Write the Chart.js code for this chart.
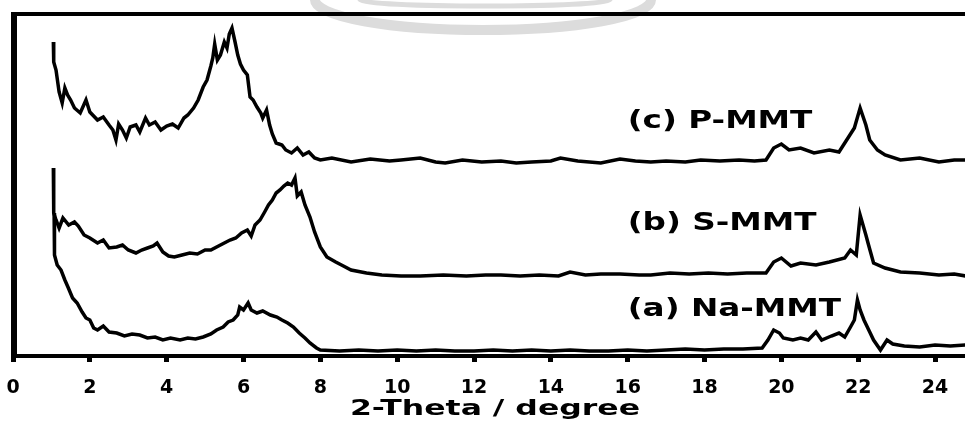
<!DOCTYPE html>
<html>
<head>
<meta charset="utf-8">
<title>XRD patterns</title>
<script src="https://cdn.jsdelivr.net/npm/chart.js@4/dist/chart.umd.min.js"></script>
<style>
    html, body { margin: 0; padding: 0; background: #fff; }
    #xrdChart { display: block; }
</style>
</head>
<body>
<canvas id="xrdChart" width="965" height="421"></canvas>
<script>
// 2-Theta (degree) and offset intensity
const cX = [1.05, 1.06, 1.12, 1.2, 1.28, 1.35, 1.42, 1.5, 1.6, 1.75, 1.9, 2.0, 2.2, 2.35, 2.5, 2.6, 2.68, 2.75, 2.85, 2.95,
    3.05, 3.2, 3.3, 3.45, 3.55, 3.7, 3.85, 4.0, 4.15, 4.3, 4.45, 4.55, 4.7, 4.82, 4.95, 5.05, 5.15, 5.2, 5.25, 5.32,
    5.4, 5.5, 5.57, 5.63, 5.7, 5.78, 5.85, 5.92, 6.0, 6.1, 6.17, 6.25, 6.35, 6.45, 6.5, 6.6, 6.68, 6.75, 6.85, 7.0,
    7.1, 7.25, 7.4, 7.55, 7.7, 7.85, 8.0, 8.3, 8.8, 9.3, 9.8, 10.1, 10.6, 11.0, 11.25, 11.7, 12.2, 12.7, 13.1, 13.5,
    14.0, 14.25, 14.7, 15.3, 15.8, 16.2, 16.6, 17.0, 17.5, 17.9, 18.4, 18.9, 19.3, 19.6, 19.8, 20.0, 20.2, 20.5, 20.85, 21.25,
    21.5, 21.7, 21.9, 22.05, 22.2, 22.3, 22.5, 22.7, 23.1, 23.6, 24.1, 24.5, 24.8];
const cY = [314, 294, 286, 264, 253, 268, 261, 256, 248, 243, 256, 244, 236, 239, 231, 226, 216, 232, 226, 218,
    229, 231, 224, 238, 231, 234, 226, 230, 232, 228, 238, 241, 248, 256, 269, 276, 290, 298, 312, 296,
    301, 314, 308, 322, 328, 314, 301, 292, 286, 281, 259, 256, 249, 243, 238, 246, 231, 222, 213, 211,
    206, 203, 208, 201, 204, 198, 196, 198, 194, 197, 195, 196, 198, 194, 193, 196, 194, 195, 193, 194,
    195, 198, 195, 193, 197, 195, 194, 195, 194, 196, 195, 196, 195, 196, 208, 212, 206, 208, 203, 206,
    204, 216, 228, 248, 231, 216, 206, 201, 196, 198, 194, 196, 196];

const bX = [1.05, 1.06, 1.12, 1.2, 1.3, 1.45, 1.6, 1.7, 1.85, 2.0, 2.2, 2.35, 2.5, 2.7, 2.85, 3.0, 3.2, 3.35, 3.5, 3.65,
    3.75, 3.9, 4.05, 4.2, 4.4, 4.6, 4.8, 5.0, 5.15, 5.35, 5.5, 5.65, 5.8, 5.95, 6.1, 6.2, 6.3, 6.43, 6.55, 6.65,
    6.75, 6.85, 6.95, 7.05, 7.15, 7.25, 7.34, 7.4, 7.5, 7.6, 7.73, 7.85, 8.0, 8.17, 8.4, 8.6, 8.8, 9.2, 9.6, 10.1,
    10.6, 11.2, 11.8, 12.3, 12.7, 13.2, 13.7, 14.2, 14.5, 14.9, 15.3, 15.8, 16.3, 16.6, 17.1, 17.6, 18.1, 18.6, 19.1, 19.6,
    19.8, 20.0, 20.25, 20.5, 20.9, 21.25, 21.65, 21.8, 21.95, 22.05, 22.2, 22.27, 22.4, 22.7, 23.1, 23.6, 24.1, 24.5, 24.8];
const bY = [188, 143, 136, 128, 138, 131, 134, 130, 121, 118, 113, 116, 108, 109, 111, 106, 103, 106, 108, 110,
    113, 104, 100, 99, 101, 103, 102, 106, 106, 110, 113, 116, 118, 123, 126, 120, 131, 136, 144, 151,
    156, 163, 166, 170, 173, 171, 178, 160, 164, 151, 139, 124, 109, 99, 94, 90, 86, 83, 81, 80,
    80, 81, 80, 81, 81, 80, 81, 80, 84, 81, 82, 82, 81, 81, 83, 82, 83, 82, 83, 83,
    94, 98, 90, 93, 91, 94, 98, 106, 101, 141, 121, 111, 93, 88, 84, 83, 81, 82, 80];

const aX = [1.07, 1.08, 1.15, 1.25, 1.35, 1.43, 1.55, 1.67, 1.8, 1.9, 2.0, 2.1, 2.2, 2.35, 2.5, 2.7, 2.9, 3.1, 3.3, 3.5, 3.7,
    3.9, 4.1, 4.35, 4.55, 4.75, 4.95, 5.15, 5.3, 5.47, 5.6, 5.73, 5.85, 5.9, 6.0, 6.12, 6.2, 6.35, 6.5, 6.7, 6.87,
    7.0, 7.15, 7.3, 7.45, 7.6, 7.73, 7.9, 8.0, 8.5, 9.0, 9.5, 10.0, 10.5, 11.0, 11.5, 12.0, 12.5, 13.0, 13.5, 14.0,
    14.5, 15.0, 15.5, 16.0, 16.5, 17.0, 17.5, 18.0, 18.5, 19.0, 19.5, 19.65, 19.8, 19.95, 20.05, 20.3, 20.5, 20.7, 20.9, 21.05,
    21.3, 21.5, 21.65, 21.8, 21.9, 21.98, 22.05, 22.15, 22.3, 22.4, 22.58, 22.75, 22.9, 23.2, 23.6, 24.0, 24.4, 24.8];
const aY = [143, 101, 91, 86, 76, 69, 58, 53, 44, 38, 36, 28, 26, 30, 24, 23, 20, 22, 21, 18, 19,
    16, 18, 16, 18, 17, 19, 22, 26, 29, 34, 36, 41, 49, 46, 53, 46, 43, 45, 41, 39,
    36, 33, 29, 23, 18, 13, 8, 6, 5, 6, 5, 6, 5, 6, 5, 5, 6, 5, 6, 5,
    6, 5, 5, 6, 5, 6, 7, 6, 7, 7, 8, 16, 26, 23, 18, 16, 18, 16, 24, 16,
    20, 23, 19, 29, 36, 56, 46, 36, 24, 16, 6, 16, 12, 10, 9, 11, 10, 11];

const xTicks = [0, 2, 4, 6, 8, 10, 12, 14, 16, 18, 20, 22, 24];
const seriesNames = ['(a) Na-MMT', '(b) S-MMT', '(c) P-MMT'];
const nameX = [16.0, 16.0, 16.0];
const nameY = [46, 132, 234];

function pairs(xs, ys) {
    return xs.map((x, i) => ({ x: x, y: ys[i] }));
}

// faint watermark arcs behind the frame
const watermark = {
    id: 'watermark',
    beforeDraw(chart) {
        const ctx = chart.ctx;
        ctx.save();
        ctx.strokeStyle = '#dcdcdc';
        ctx.lineWidth = 10;
        ctx.beginPath();
        ctx.ellipse(483, 0, 168, 30, 0, 0, Math.PI);
        ctx.stroke();
        ctx.lineWidth = 5;
        ctx.beginPath();
        ctx.ellipse(485, 0, 125, 6, 0, 0, Math.PI);
        ctx.stroke();
        ctx.restore();
    }
};

// frame lines, curve names and axis title (wide, heavy lettering)
const decor = {
    id: 'decor',
    afterDraw(chart) {
        const ctx = chart.ctx;
        const area = chart.chartArea;
        const xs = chart.scales.x;
        const ys = chart.scales.y;
        ctx.save();
        ctx.strokeStyle = '#000';
        ctx.lineWidth = 6;
        ctx.beginPath();
        ctx.moveTo(area.left + 1, area.top - 2);
        ctx.lineTo(area.left + 1, area.bottom + 2);
        ctx.stroke();
        ctx.lineWidth = 4;
        ctx.beginPath();
        ctx.moveTo(area.left - 2, area.top);
        ctx.lineTo(area.right, area.top);
        ctx.stroke();

        ctx.fillStyle = '#000';
        ctx.textAlign = 'left';
        ctx.textBaseline = 'middle';
        ctx.font = 'bold 24px "DejaVu Sans"';
        seriesNames.forEach((name, i) => {
            ctx.save();
            ctx.translate(xs.getPixelForValue(nameX[i]), ys.getPixelForValue(nameY[i]));
            ctx.scale(1.36, 1);
            ctx.fillText(name, 0, 0);
            ctx.restore();
        });

        ctx.textAlign = 'center';
        ctx.font = 'bold 21px "DejaVu Sans"';
        ctx.translate((area.left + area.right) / 2 + 6, xs.bottom - 11);
        ctx.scale(1.5, 1);
        ctx.fillText('2-Theta / degree', 0, 0);
        ctx.restore();
    }
};

const lineStyle = {
    borderColor: '#000',
    borderWidth: 3.5,
    pointRadius: 0,
    tension: 0,
    fill: false
};

new Chart(document.getElementById('xrdChart').getContext('2d'), {
    type: 'line',
    data: {
        datasets: [
            Object.assign({ label: seriesNames[0], data: pairs(aX, aY) }, lineStyle),
            Object.assign({ label: seriesNames[1], data: pairs(bX, bY) }, lineStyle),
            Object.assign({ label: seriesNames[2], data: pairs(cX, cY) }, lineStyle)
        ]
    },
    options: {
        responsive: false,
        animation: false,
        layout: { padding: { top: 14, left: 13, right: 0, bottom: 0 } },
        plugins: {
            legend: { display: false },
            tooltip: { enabled: false }
        },
        scales: {
            x: {
                type: 'linear',
                min: 0,
                max: 24.78,
                afterFit(scale) {
                    scale.height = 65;
                    scale.paddingLeft = 0;
                    scale.paddingRight = 0;
                },
                afterBuildTicks(scale) { scale.ticks = xTicks.map(v => ({ value: v })); },
                border: { display: true, color: '#000', width: 4 },
                grid: {
                    drawOnChartArea: false,
                    drawTicks: true,
                    tickLength: 6,
                    tickWidth: 5,
                    tickColor: '#000'
                },
                ticks: {
                    includeBounds: false,
                    maxRotation: 0,
                    autoSkip: false,
                    padding: 15,
                    color: '#000',
                    font: { family: 'DejaVu Sans', size: 19, weight: 'bold' }
                }
            },
            y: {
                display: false,
                min: 0,
                max: 342
            }
        }
    },
    plugins: [watermark, decor]
});
</script>
</body>
</html>
